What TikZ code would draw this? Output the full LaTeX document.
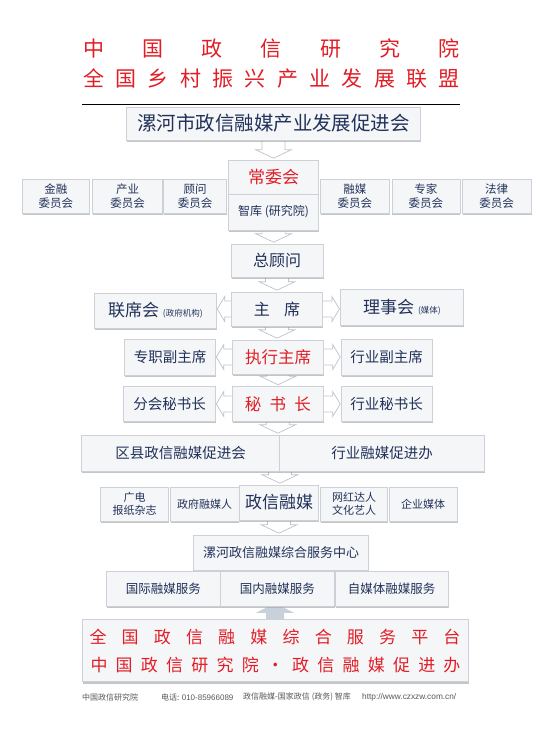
\documentclass[tikz,border=0pt]{standalone}
\usepackage{fontspec}
\setmainfont{Noto Sans CJK SC}
\newfontfamily\latinfont{Liberation Sans}
\usepackage{xcolor}
\usepackage{tikz}
\usetikzlibrary{calc,shadows,backgrounds}

\definecolor{zxred}{HTML}{E11E26}
\definecolor{zxnavy}{HTML}{22325A}
\definecolor{boxfill}{HTML}{F5F6F8}
\definecolor{boxline}{HTML}{CDD1D7}
\definecolor{arrline}{HTML}{BFC4CB}
\definecolor{uparr}{HTML}{C8D0DA}

\newcommand{\fsz}[1]{\fontsize{#1}{#1}\selectfont}
% block arrows: #1 start point, #2 end point
\newcommand{\blockdown}[2]{%
  \draw[blockarr] let \p1=(#1), \p2=(#2) in
    (\x1-11.5pt,\y1) -- (\x1-11.5pt,\y2+10pt) -- (\x1-18pt,\y2+10pt) -- (\x1,\y2+1.5pt)
    -- (\x1+18pt,\y2+10pt) -- (\x1+11.5pt,\y2+10pt) -- (\x1+11.5pt,\y1);}
\newcommand{\blockleft}[2]{%
  \draw[blockarr] let \p1=(#1), \p2=(#2) in
    (\x1,\y1+8pt) -- (\x2+8pt,\y1+8pt) -- (\x2+8pt,\y1+12.5pt) -- (\x2+.5pt,\y1)
    -- (\x2+8pt,\y1-12.5pt) -- (\x2+8pt,\y1-8pt) -- (\x1,\y1-8pt);}
\newcommand{\blockright}[2]{%
  \draw[blockarr] let \p1=(#1), \p2=(#2) in
    (\x1,\y1+8pt) -- (\x2-8pt,\y1+8pt) -- (\x2-8pt,\y1+12.5pt) -- (\x2-.5pt,\y1)
    -- (\x2-8pt,\y1-12.5pt) -- (\x2-8pt,\y1-8pt) -- (\x1,\y1-8pt);}
\newcommand{\blockup}[2]{%
  \fill[uparr] let \p1=(#1), \p2=(#2) in
    (\x1-9pt,\y1) -- (\x1-9pt,\y2-6.5pt) -- (\x1-19pt,\y2-6.5pt) -- (\x1-8pt,\y2-1pt)
    -- (\x1+8pt,\y2-1pt) -- (\x1+19pt,\y2-6.5pt) -- (\x1+9pt,\y2-6.5pt) -- (\x1+9pt,\y1) -- cycle;}

\tikzset{
  box/.style={draw=boxline,fill=boxfill,line width=.6pt,inner sep=1pt,align=center,text=zxnavy,
    drop shadow={shadow xshift=.6pt,shadow yshift=-1.8pt,fill=black!45,opacity=.5}},
  sz/.style 2 args={minimum width=#1,minimum height=#2},
  twoline/.style={font=\fontsize{11.5}{14}\selectfont},
  blockarr/.style={draw=arrline,fill=white,line width=.7pt,line join=miter},
  redline/.style={text=zxred,inner sep=0pt},
  foot/.style={text=black!65,inner sep=0pt,anchor=west,font=\fsz{8}},
}

\begin{document}
\begin{tikzpicture}[x=1pt,y=-1pt]
\useasboundingbox (0,0) rectangle (540,745);
% title
\node[redline,font=\fsz{21}] (title1) at (271.5,48)
  {\makebox[377pt][s]{中\hfill 国\hfill 政\hfill 信\hfill 研\hfill 究\hfill 院}};
\node[redline,font=\fsz{21}] (title2) at (271.5,78)
  {\makebox[377pt][s]{全\hfill 国\hfill 乡\hfill 村\hfill 振\hfill 兴\hfill 产\hfill 业\hfill 发\hfill 展\hfill 联\hfill 盟}};
\draw[line width=.7pt] (82,104) -- (460,104);
% top
\node[box,sz={294}{33},font=\fsz{19.5}] (city) at (273.5,123.5) {漯河市政信融媒产业发展促进会};
\node[box,sz={90}{34},font=\fsz{17},text=zxred] (standing) at (273.6,177) {常委会};
\node[box,sz={90}{36},font=\fsz{12}] (think) at (273.6,212) {智库 (研究院)};
% committees
\node[box,sz={66.8}{34},twoline] (finance) at (55.9,196) {金融\\委员会};
\node[box,sz={70}{34},twoline] (industry) at (127.7,196) {产业\\委员会};
\node[box,sz={63.3}{34},twoline] (consult) at (195,196) {顾问\\委员会};
\node[box,sz={69.2}{34},twoline] (fusion) at (354.8,196) {融媒\\委员会};
\node[box,sz={68}{34},twoline] (expert) at (425.8,196) {专家\\委员会};
\node[box,sz={69.2}{34},twoline] (legal) at (496.7,196) {法律\\委员会};
% leadership
\node[box,sz={92}{33},font=\fsz{16}] (adviser) at (277,260.5) {总顾问};
\node[box,sz={91}{34},font=\fsz{16}] (chair) at (277,309) {主\hspace{.9em}席};
\node[box,sz={122}{35},font=\fsz{17}] (joint) at (155.4,310.5) {联席会 {\fsz{8.5}(政府机构)}};
\node[box,sz={123.5}{36},font=\fsz{17}] (board) at (402,307) {理事会 {\fsz{8.5}(媒体)}};
\node[box,sz={91}{34},font=\fsz{16.5},text=zxred] (exec) at (278,357) {执行主席};
\node[box,sz={91}{36},font=\fsz{14.5}] (fulltime) at (170,357) {专职副主席};
\node[box,sz={91}{36},font=\fsz{14.5}] (indvice) at (386.5,357) {行业副主席};
\node[box,sz={91.7}{35},font=\fsz{16.5},text=zxred] (secgen) at (277.8,404) {秘\hspace{.5em}书\hspace{.5em}长};
\node[box,sz={92}{35},font=\fsz{14.5}] (branchsec) at (169.5,404) {分会秘书长};
\node[box,sz={91}{35},font=\fsz{14.5}] (indsec) at (386.5,404) {行业秘书长};
% promotion bodies
\node[box,sz={198}{36},font=\fsz{14.5}] (county) at (180.6,453) {区县政信融媒促进会};
\node[box,sz={205}{36},font=\fsz{14.5}] (indoffice) at (382.2,453) {行业融媒促进办};
% media
\node[box,sz={68}{34},twoline,font=\fontsize{11}{13.5}\selectfont] (press) at (134.5,504) {广电\\报纸杂志};
\node[box,sz={68.5}{34},font=\fsz{11}] (govmedia) at (204.6,504) {政府融媒人};
\node[box,sz={79}{35},font=\fsz{17}] (media) at (279,502.5) {政信融媒};
\node[box,sz={67.5}{34},twoline,font=\fontsize{11}{13.5}\selectfont] (influencer) at (354,504) {网红达人\\文化艺人};
\node[box,sz={68}{34},font=\fsz{11}] (corpmedia) at (423,504) {企业媒体};
% services
\node[box,sz={175.3}{35},font=\fsz{13}] (center) at (281,552.5) {漯河政信融媒综合服务中心};
\node[box,sz={114.5}{35},font=\fsz{12.5}] (intl) at (163.3,588.5) {国际融媒服务};
\node[box,sz={113.5}{35},font=\fsz{12.5}] (domestic) at (277.3,588.5) {国内融媒服务};
\node[box,sz={113.3}{35},font=\fsz{12.5}] (selfmedia) at (391.7,588.5) {自媒体融媒服务};
% platform
\node[box,sz={386}{62.4}] (plat) at (275,650.5) {};
\node[redline,font=\fsz{17}] (plat1) at (275,636.7)
  {\makebox[371pt][s]{全\hfill 国\hfill 政\hfill 信\hfill 融\hfill 媒\hfill 综\hfill 合\hfill 服\hfill 务\hfill 平\hfill 台}};
\node[redline,font=\fsz{17}] (plat2) at (275.5,665)
  {\makebox[370pt][s]{中\hfill 国\hfill 政\hfill 信\hfill 研\hfill 究\hfill 院\hfill ・\hfill 政\hfill 信\hfill 融\hfill 媒\hfill 促\hfill 进\hfill 办}};
% footer
\node[foot] (foot1) at (82,697.3) {中国政信研究院};
\node[foot] (foot2) at (161,697.3) {电话: {\latinfont 010-85966089}};
\node[foot] (foot3) at (243,697.3) {政信融媒-国家政信 (政务) 智库};
\node[foot,font=\latinfont\fsz{8.3}] (foot4) at (362,697.3) {http://www.czxzw.com.cn/};
% arrows
\begin{scope}[on background layer]
\fill[white] (0,0) rectangle (540,745);
\blockdown{city.south}{standing.north}
\blockdown{think.south}{adviser.north}
\blockdown{adviser.south}{chair.north}
\blockleft{chair.west}{joint.east}
\blockright{chair.east}{board.west}
\blockdown{chair.south}{exec.north}
\blockleft{exec.west}{fulltime.east}
\blockright{exec.east}{indvice.west}
\blockdown{exec.south}{secgen.north}
\blockleft{secgen.west}{branchsec.east}
\blockright{secgen.east}{indsec.west}
\blockdown{secgen.south}{county.north}
\blockdown{county.south east}{media.north}
\blockdown{media.south}{center.north}
\blockup{plat.north}{domestic.south}
\end{scope}
\end{tikzpicture}
\end{document}
